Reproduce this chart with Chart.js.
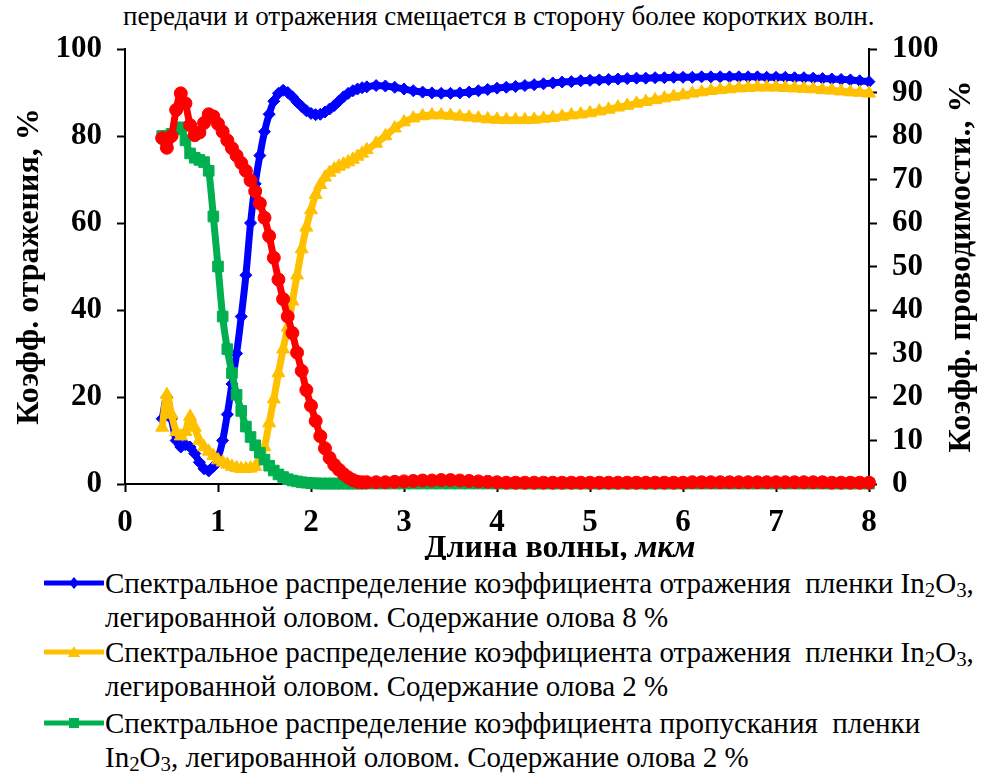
<!DOCTYPE html>
<html>
<head>
<meta charset="utf-8">
<script src="https://cdn.jsdelivr.net/npm/chart.js@4/dist/chart.umd.min.js"></script>
<style>
  html, body { margin: 0; padding: 0; background: #fff; }
  body { width: 982px; height: 773px; position: relative; overflow: hidden;
         font-family: "Liberation Serif", "Times New Roman", serif; color: #000; }
  #note { position: absolute; left: 123px; top: 1px; font-size: 27px; line-height: 30px; white-space: nowrap; }
  #plot { position: absolute; left: 0; top: 0; }
  .entry { position: absolute; left: 0; width: 982px; }
  .entry svg { position: absolute; left: 44px; top: 11px; }
  .entry .txt { position: absolute; left: 105px; font-size: 29px; line-height: 34px; white-space: nowrap; }
  sub { font-size: 0.72em; vertical-align: -0.18em; line-height: 0; }
</style>
</head>
<body>
<div id="note">передачи и отражения смещается в сторону более коротких волн.</div>
<canvas id="plot" width="982" height="560"></canvas>
<div id="legend"></div>
<script>
// Wavelength grid, µm
const wavelength = [
  0.40, 0.45, 0.50, 0.55, 0.60, 0.65, 0.70, 0.75, 0.80, 0.85,
  0.90, 0.95, 1.00, 1.05, 1.10, 1.15, 1.20, 1.25, 1.30, 1.35,
  1.40, 1.45, 1.50, 1.55, 1.60, 1.65, 1.70, 1.75, 1.80, 1.85,
  1.90, 1.95, 2.00, 2.05, 2.10, 2.15, 2.20, 2.25, 2.30, 2.35,
  2.40, 2.45, 2.50, 2.55, 2.60,
  2.7, 2.8, 2.9, 3.0,
  3.1, 3.2, 3.3, 3.4, 3.5, 3.6, 3.7, 3.8, 3.9, 4.0,
  4.1, 4.2, 4.3, 4.4, 4.5, 4.6, 4.7, 4.8, 4.9, 5.0,
  5.1, 5.2, 5.3, 5.4, 5.5, 5.6, 5.7, 5.8, 5.9, 6.0,
  6.1, 6.2, 6.3, 6.4, 6.5, 6.6, 6.7, 6.8, 6.9, 7.0,
  7.1, 7.2, 7.3, 7.4, 7.5, 7.6, 7.7, 7.8, 7.9, 8.0
];

// Reflectance, 8 % Sn, %
const reflect8 = [
  15, 20, 15, 10, 8.5, 9, 8.5, 7, 5, 3.5,
  3, 4, 6, 10, 16, 23, 30, 38.5, 48, 60,
  69, 75.5, 81, 85, 88, 89.8, 90.5, 90, 89, 87.8,
  86.8, 85.8, 85.2, 84.9, 85, 85.5, 86.2, 87, 88, 89,
  89.8, 90.4, 90.8, 91.1, 91.3,
  91.6, 91.5, 91.2, 90.8,
  90.4, 90.1, 89.9, 89.8, 89.8, 89.9, 90.1, 90.4, 90.7, 91.0,
  91.2, 91.4, 91.6, 91.8, 92.0, 92.2, 92.4, 92.5, 92.7, 92.8,
  92.9, 93.0, 93.1, 93.2, 93.3, 93.3, 93.4, 93.4, 93.5, 93.5,
  93.5, 93.6, 93.6, 93.6, 93.6, 93.6, 93.6, 93.6, 93.5, 93.5,
  93.5, 93.4, 93.4, 93.3, 93.2, 93.1, 93.0, 92.9, 92.7, 92.5
];

// Reflectance, 2 % Sn, %
const reflect2 = [
  13, 20.5, 16, 12, 11, 12, 15.5, 13, 10, 8.5,
  7.5, 6.5, 5.5, 5, 4.5, 4, 3.7, 3.5, 3.5, 3.6,
  4, 5.5, 8.5, 14, 19.5, 25.5, 31, 36, 42, 48,
  54, 59, 63, 66.5, 68.8, 70.5, 71.6, 72.4, 73, 73.5,
  74, 74.6, 75.3, 76, 76.8,
  78.3, 80.0, 81.8, 83.2,
  84.1, 84.6, 84.8, 84.8, 84.7, 84.5, 84.3, 84.1, 83.9, 83.8,
  83.7, 83.7, 83.7, 83.8, 84.0, 84.2, 84.5, 84.8, 85.0, 85.3,
  85.7, 86.1, 86.6, 87.0, 87.5, 87.9, 88.3, 88.7, 89.1, 89.4,
  89.8, 90.1, 90.4, 90.6, 90.8, 91.0, 91.1, 91.2, 91.2, 91.2,
  91.1, 91.0, 90.9, 90.8, 90.6, 90.5, 90.3, 90.1, 90.0, 89.8
];

// Transmittance, 2 % Sn, %
const transmit2 = [
  80, 80, 80.5, 81.5, 82, 79, 76, 75, 74.5, 74,
  72, 61.5, 50, 38.5, 31, 25.5, 20.5, 16.8, 13.2, 10.8,
  8.9, 7.2, 5.6, 4.2, 3.1, 2.2, 1.6, 1.1, 0.8, 0.6,
  0.4, 0.3, 0.2, 0.15, 0.1, 0.1, 0.1, 0.1, 0.1, 0.1,
  0.1, 0.1, 0.1, 0.1, 0.1,
  0.1, 0.1, 0.1, 0.1,
  0.1, 0.1, 0.1, 0.1, 0.1, 0.1, 0.1, 0.1, 0.1, 0.1,
  0.1, 0.1, 0.1, 0.1, 0.1, 0.1, 0.1, 0.1, 0.1, 0.1,
  0.1, 0.1, 0.1, 0.1, 0.1, 0.1, 0.1, 0.1, 0.1, 0.1,
  0.1, 0.1, 0.1, 0.1, 0.1, 0.1, 0.1, 0.1, 0.1, 0.1,
  0.1, 0.1, 0.1, 0.1, 0.1, 0.1, 0.1, 0.1, 0.1, 0.1
];

// Conductivity coefficient, % (right axis)
const conduct = [
  79.5, 77.3, 80, 86, 89.8, 87.5, 82.5, 80.2, 80.8, 83,
  85, 84.5, 82.8, 81, 79, 77.2, 75.5, 73.8, 72, 69.8,
  67.3, 64.5, 61.2, 57, 52, 47, 42.5, 38.5, 34.7, 30.2,
  26, 21.6, 18, 14.5, 11, 8.2, 6, 4.4, 3.3, 2.3,
  1.5, 0.9, 0.5, 0.4, 0.4,
  0.4, 0.4, 0.5, 0.6,
  0.7, 0.8, 0.8, 0.9, 0.9, 0.8, 0.7, 0.6, 0.5, 0.4,
  0.3, 0.3, 0.3, 0.3, 0.3, 0.3, 0.3, 0.3, 0.3, 0.3,
  0.3, 0.3, 0.3, 0.3, 0.3, 0.3, 0.3, 0.3, 0.3, 0.3,
  0.4, 0.4, 0.4, 0.4, 0.4, 0.4, 0.4, 0.4, 0.4, 0.4,
  0.4, 0.4, 0.4, 0.4, 0.4, 0.3, 0.3, 0.3, 0.3, 0.3
];

const xTicks = [0, 1, 2, 3, 4, 5, 6, 7, 8];
const leftTicks = [0, 20, 40, 60, 80, 100];
const rightTicks = [0, 10, 20, 30, 40, 50, 60, 70, 80, 90, 100];

const legendItems = [
  { color: '#0000FF', marker: 'diamond',
    html: 'Спектральное распределение коэффициента отражения &nbsp;пленки In<sub>2</sub>O<sub>3</sub>,<br>легированной оловом. Содержание олова 8 %' },
  { color: '#FFC000', marker: 'triangle',
    html: 'Спектральное распределение коэффициента отражения &nbsp;пленки In<sub>2</sub>O<sub>3</sub>,<br>легированной оловом. Содержание олова 2 %' },
  { color: '#00B050', marker: 'square',
    html: 'Спектральное распределение коэффициента пропускания &nbsp;пленки<br>In<sub>2</sub>O<sub>3</sub>, легированной оловом. Содержание олова 2 %' }
];

const FONT = '"Liberation Serif", "Times New Roman", serif';

function pts(values) {
  return values.map((v, i) => ({ x: wavelength[i], y: v }));
}

function series(values, color, style, radius, axis, order) {
  return {
    data: pts(values),
    yAxisID: axis,
    borderColor: color,
    backgroundColor: color,
    pointBackgroundColor: color,
    pointBorderColor: color,
    pointBorderWidth: 1,
    pointStyle: style,
    pointRadius: radius,
    borderWidth: 7,
    cubicInterpolationMode: 'monotone',
    clip: false,
    order: order
  };
}

// Extra axis texts: right title reads bottom-to-top, x title has italic unit
const axisTexts = {
  id: 'axisTexts',
  afterDraw(chart) {
    const ctx = chart.ctx;
    const y2 = chart.scales.y2;
    const area = chart.chartArea;
    ctx.save();
    ctx.fillStyle = '#000';
    ctx.font = 'bold 32px ' + FONT;
    ctx.textAlign = 'center';
    ctx.textBaseline = 'middle';
    ctx.translate(y2.right - 20, (area.top + area.bottom) / 2);
    ctx.rotate(-Math.PI / 2);
    ctx.fillText('Коэфф. проводимости., %', 0, 0);
    ctx.restore();

    ctx.save();
    ctx.fillStyle = '#000';
    ctx.textBaseline = 'alphabetic';
    const partA = 'Длина волны, ';
    const partB = 'мкм';
    ctx.font = 'bold 32px ' + FONT;
    const wA = ctx.measureText(partA).width;
    ctx.font = 'italic bold 32px ' + FONT;
    const wB = ctx.measureText(partB).width;
    const cx = 560;
    const x0 = cx - (wA + wB) / 2;
    const baseY = 557;
    ctx.font = 'bold 32px ' + FONT;
    ctx.textAlign = 'left';
    ctx.fillText(partA, x0, baseY);
    ctx.font = 'italic bold 32px ' + FONT;
    ctx.fillText(partB, x0 + wA, baseY);
    ctx.restore();
  }
};

const tickFont = { family: FONT, size: 31, weight: 'bold' };
const titleFont = { family: FONT, size: 32, weight: 'bold' };
const axisGrid = { drawOnChartArea: false, drawTicks: true, tickLength: 8, tickWidth: 2, tickColor: '#000' };
const axisBorder = { display: true, color: '#000', width: 2 };

new Chart(document.getElementById('plot'), {
  type: 'line',
  data: {
    datasets: [
      series(reflect8, '#0000FF', 'rectRot', 6, 'y', 4),
      series(reflect2, '#FFC000', 'triangle', 7.5, 'y', 3),
      series(transmit2, '#00B050', 'rect', 7.5, 'y', 2),
      series(conduct, '#FF0000', 'circle', 6.5, 'y2', 1)
    ]
  },
  options: {
    responsive: false,
    animation: false,
    devicePixelRatio: 1,
    layout: { padding: { top: 49, left: 0, right: 0, bottom: 0 } },
    plugins: { legend: { display: false }, tooltip: { enabled: false } },
    scales: {
      x: {
        type: 'linear', min: 0, max: 8,
        afterBuildTicks: s => { s.ticks = xTicks.map(v => ({ value: v })); },
        ticks: { font: tickFont, color: '#000', padding: 12 },
        grid: axisGrid, border: axisBorder,
        afterFit: s => { s.height = 76; }
      },
      y: {
        position: 'left', min: 0, max: 100,
        afterBuildTicks: s => { s.ticks = leftTicks.map(v => ({ value: v })); },
        ticks: { font: tickFont, color: '#000', padding: 15 },
        grid: axisGrid, border: axisBorder,
        title: { display: true, text: 'Коэфф. отражения, %', font: titleFont, color: '#000', padding: { top: 11, bottom: 0 } },
        afterFit: s => { s.width = 125; }
      },
      y2: {
        position: 'right', min: 0, max: 100,
        afterBuildTicks: s => { s.ticks = rightTicks.map(v => ({ value: v })); },
        ticks: { font: tickFont, color: '#000', padding: 15 },
        grid: axisGrid, border: axisBorder,
        afterFit: s => { s.width = 113; }
      }
    }
  },
  plugins: [axisTexts]
});

// Legend below the plot
function markerSvg(kind, color) {
  let m = '';
  if (kind === 'diamond') m = `<polygon points="30,0 35,6 30,12 25,6" fill="${color}"/>`;
  if (kind === 'triangle') m = `<polygon points="30,0 36,11 24,11" fill="${color}"/>`;
  if (kind === 'square') m = `<rect x="25" y="1" width="10" height="10" fill="${color}"/>`;
  return `<svg width="60" height="12" viewBox="0 0 60 12"><line x1="1" y1="6" x2="59" y2="6" stroke="${color}" stroke-width="5" stroke-linecap="round"/>${m}</svg>`;
}
const legendTops = [566, 635, 706];
const legendEl = document.getElementById('legend');
legendItems.forEach((it, i) => {
  const d = document.createElement('div');
  d.className = 'entry';
  d.style.top = legendTops[i] + 'px';
  d.innerHTML = markerSvg(it.marker, it.color) + `<div class="txt">${it.html}</div>`;
  legendEl.appendChild(d);
});
</script>
</body>
</html>
